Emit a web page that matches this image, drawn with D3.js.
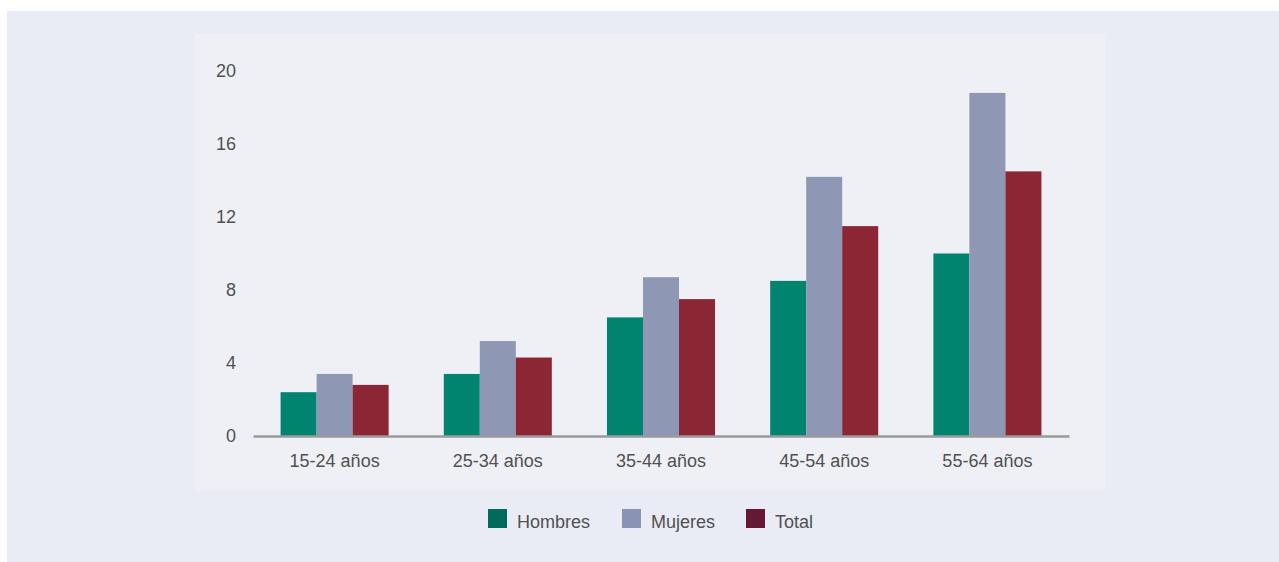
<!DOCTYPE html>
<html>
<head>
<meta charset="utf-8">
<script src="https://cdn.jsdelivr.net/npm/d3@7"></script>
<style>
html,body{margin:0;padding:0;background:#ffffff;}
svg{display:block;}
text{font-family:"Liberation Sans",Arial,Helvetica,sans-serif;}
</style>
</head>
<body>
<svg id="chart" width="1279" height="562"></svg>
<script>
const categories = ["15-24 años", "25-34 años", "35-44 años", "45-54 años", "55-64 años"];
const seriesNames = ["Hombres", "Mujeres", "Total"];
const hombres = [2.4, 3.4, 6.5, 8.5, 10.0];
const mujeres = [3.4, 5.2, 8.7, 14.2, 18.8];
const total = [2.8, 4.3, 7.5, 11.5, 14.5];
const yTicks = [0, 4, 8, 12, 16, 20];

const barColors = ["#008470", "#8e97b3", "#8c2534"];
const legendColors = ["#006b5a", "#8a93b5", "#651833"];
const values = [hombres, mujeres, total];

const svg = d3.select("#chart");

// backgrounds
svg.append("rect").attr("x", 7).attr("y", 11).attr("width", 1272).attr("height", 551).attr("fill", "#e9ecf4");
svg.append("rect").attr("x", 195).attr("y", 34).attr("width", 910).attr("height", 457).attr("fill", "#eef0f5");

const x0 = d3.scaleBand().domain(categories).range([253, 1069]).paddingInner(0.338).paddingOuter(0.169);
const x1 = d3.scaleBand().domain(seriesNames).range([0, x0.bandwidth()]);
const y = d3.scaleLinear().domain([0, 20]).range([436, 71]);

// y labels
const yAxis = d3.axisLeft(y).tickValues(yTicks).tickSize(0).tickPadding(0).tickFormat(d3.format("d"));
const ya = svg.append("g").attr("transform", "translate(236,0)").call(yAxis);
ya.select(".domain").remove();
ya.selectAll("text").attr("font-size", 18).attr("fill", "#505052").attr("font-family", "Liberation Sans, Arial, sans-serif");

// bars
const rows = categories.map((c, i) => ({cat: c, vals: seriesNames.map((s, j) => ({s, v: values[j][i], j}))}));
const g = svg.append("g").selectAll("g").data(rows).join("g")
  .attr("transform", d => `translate(${x0(d.cat)},0)`);
g.selectAll("rect").data(d => d.vals).join("rect")
  .attr("x", d => x1(d.s))
  .attr("width", x1.bandwidth())
  .attr("y", d => y(d.v))
  .attr("height", d => y(0) - y(d.v))
  .attr("fill", d => barColors[d.j]);

// x axis
const xAxis = d3.axisBottom(x0).tickSize(0).tickPadding(18).tickSizeOuter(0);
const xa = svg.append("g").attr("transform", `translate(0,${y(0)})`).call(xAxis);
xa.select(".domain").attr("stroke", "#9a9a9c").attr("stroke-width", 2.5);
xa.selectAll("text").attr("font-size", 18).attr("fill", "#505052").attr("font-family", "Liberation Sans, Arial, sans-serif");

// legend
const legendX = [488, 622, 746];
const lg = svg.append("g").selectAll("g").data(seriesNames).join("g")
  .attr("transform", (d, i) => `translate(${legendX[i]},509)`);
lg.append("rect").attr("width", 19).attr("height", 19).attr("fill", (d, i) => legendColors[i]);
lg.append("text").attr("x", 29).attr("y", 18.5).attr("font-size", 18).attr("fill", "#505052").text(d => d);
</script>
</body>
</html>
